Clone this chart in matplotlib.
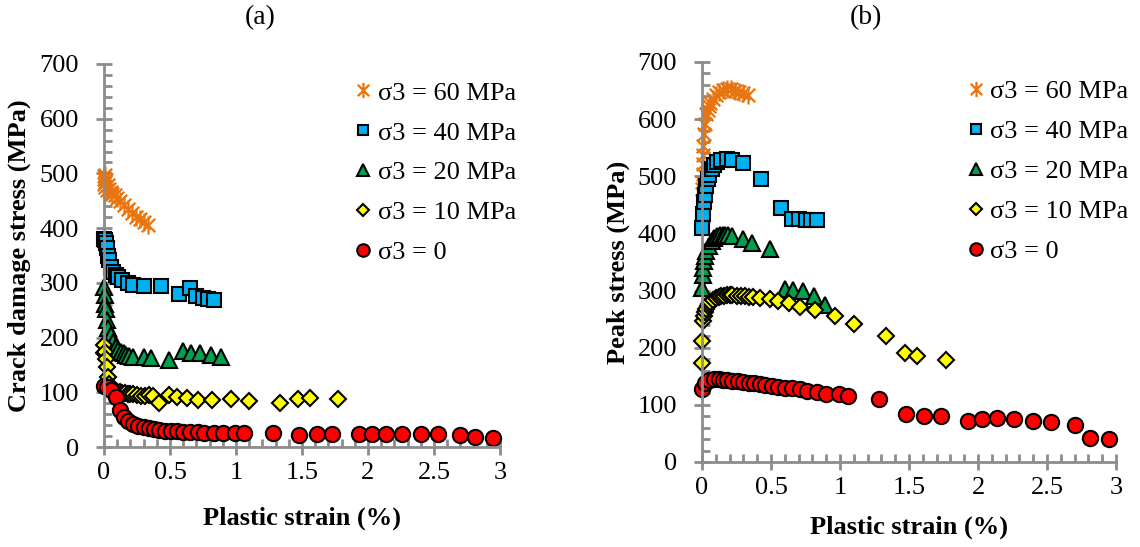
import matplotlib
matplotlib.use("Agg")
import matplotlib.pyplot as plt
from matplotlib.path import Path
from matplotlib.lines import Line2D
from matplotlib.ticker import MultipleLocator, FuncFormatter

plt.rcParams['font.family'] = ['Liberation Serif', 'DejaVu Serif']

# ---------------- data ----------------
labels = ["σ3 = 60 MPa", "σ3 = 40 MPa", "σ3 = 20 MPa", "σ3 = 10 MPa", "σ3 = 0"]

# plastic strain (%) per confining pressure
strain_60 = [0, 0.002, 0.004, 0.006, 0.008, 0.01, 0.015, 0.02, 0.03, 0.04, 0.05,
             0.06, 0.08, 0.10, 0.12, 0.15, 0.18, 0.21, 0.24, 0.27, 0.30, 0.33]
strain_40 = [0, 0.005, 0.015, 0.02, 0.03, 0.04, 0.05, 0.07, 0.09, 0.11, 0.14,
             0.18, 0.22, 0.30, 0.43, 0.57, 0.65, 0.70, 0.75, 0.79, 0.83]
strain_20 = [0, 0.005, 0.01, 0.015, 0.02, 0.03, 0.05, 0.07, 0.09, 0.11, 0.13,
             0.15, 0.17, 0.19, 0.22, 0.30, 0.36, 0.49, 0.60, 0.66, 0.73, 0.81, 0.89]
strain_10 = [0, 0.003, 0.01, 0.015, 0.02, 0.03, 0.04, 0.05, 0.06, 0.08, 0.10,
             0.12, 0.14, 0.16, 0.18, 0.20, 0.22, 0.25, 0.28, 0.31, 0.34, 0.37,
             0.42, 0.49, 0.55, 0.63, 0.71, 0.82, 0.96, 1.10, 1.33, 1.47, 1.56, 1.77]
strain_0 = [0, 0.02, 0.05, 0.09, 0.12, 0.15, 0.18, 0.22, 0.26, 0.30, 0.34, 0.38,
            0.42, 0.46, 0.51, 0.55, 0.60, 0.65, 0.71, 0.76, 0.83, 0.90, 0.99, 1.06,
            1.28, 1.48, 1.61, 1.73, 1.93, 2.03, 2.14, 2.26, 2.40, 2.53, 2.70, 2.81, 2.95]

# (a) crack damage stress (MPa)
cd_60 = [480, 495, 490, 498, 485, 475, 488, 470, 478, 472, 466,
         463, 460, 455, 449, 442, 435, 428, 421, 416, 411, 406]
cd_40 = [380, 378, 372, 363, 350, 341, 329, 320, 314, 310, 305,
         300, 297, 295, 294, 280, 290, 276, 273, 271, 268]
cd_20 = [292, 277, 262, 253, 232, 217, 204, 192, 183, 178, 174,
         171, 168, 166, 165, 164, 162, 159, 176, 172, 171, 168, 164]
cd_10 = [171, 186, 174, 160, 146, 128, 115, 108, 104, 102, 101,
         100, 99, 98, 97, 97, 96, 95, 94, 94, 95, 93,
         80, 95, 91, 89, 86, 86, 87, 84, 80, 87, 89, 87]
cd_0 = [111, 109, 104, 91, 68, 55, 48, 42, 38, 36, 34, 32,
        31, 30, 29, 28.5, 28, 27.5, 27, 26.5, 26, 26, 26, 25,
        26, 22, 23, 23, 24, 24, 24, 24, 24, 24, 22, 18, 16]

# (b) peak stress (MPa)
pk_60 = [477, 490, 504, 521, 538, 553, 574, 591, 609, 616, 623,
         629, 635, 643, 647, 651, 652, 652, 650, 648, 646, 643]
pk_40 = [410, 434, 455, 468, 483, 495, 503, 512, 519, 525, 528,
         530, 528, 524, 496, 445, 426, 425, 424, 424, 424]
pk_20 = [305, 328, 340, 351, 360, 369, 378, 386, 392, 395, 397,
         398, 398, 398, 395, 391, 384, 373, 303, 301, 299, 290, 274]
pk_10 = [173, 212, 246, 255, 262, 268, 273, 277, 280, 284, 287,
         289, 290, 291, 292, 292, 292, 291, 290, 290, 289, 289,
         287, 285, 282, 278, 272, 266, 255, 241, 221, 191, 185, 178]
pk_0 = [127, 138, 143, 145, 145, 144, 143, 142, 141, 140, 139, 138,
        136, 135, 133, 131, 130, 129, 127, 125, 122, 119, 119, 116,
        110, 84, 81, 81, 72, 75, 77, 75, 72, 70, 65, 42, 40]

# ---------------- styles ----------------
star = Path([(0, -1), (0, 1), (-0.75, -0.75), (0.75, 0.75), (-0.75, 0.75), (0.75, -0.75)],
            [Path.MOVETO, Path.LINETO, Path.MOVETO, Path.LINETO, Path.MOVETO, Path.LINETO])

styles = [
    dict(marker=star, ms=13, mfc='none', mec='#E8740F', mew=1.6),
    dict(marker='s', ms=9.5, mfc='#00B0F0', mec='black', mew=1.5),
    dict(marker='^', ms=11.5, mfc='#00A04E', mec='black', mew=1.5),
    dict(marker='D', ms=8, mfc='#FFFF00', mec='black', mew=1.5),
    dict(marker='o', ms=11, mfc='#FF0000', mec='black', mew=1.5),
]
legend_ms = [11, 7, 9, 6, 9]

strains = [strain_60, strain_40, strain_20, strain_10, strain_0]
crack = [cd_60, cd_40, cd_20, cd_10, cd_0]
peak = [pk_60, pk_40, pk_20, pk_10, pk_0]

AX_GRAY = '#8C8C8C'
FS = 19

fig = plt.figure(figsize=(11.4, 5.47), dpi=100)
ax_a = fig.add_axes([0.0912, 0.1828, 0.3474, 0.7002])
ax_b = fig.add_axes([0.6158, 0.1554, 0.3632, 0.7313])


def style_axes(ax):
    ax.set_xlim(0, 3)
    ax.set_ylim(0, 700)
    for s in ('top', 'right'):
        ax.spines[s].set_visible(False)
    for s in ('left', 'bottom'):
        ax.spines[s].set_color(AX_GRAY)
        ax.spines[s].set_linewidth(2)
    ax.xaxis.set_major_locator(MultipleLocator(0.5))
    ax.xaxis.set_minor_locator(MultipleLocator(0.1))
    ax.yaxis.set_major_locator(MultipleLocator(100))
    ax.yaxis.set_minor_locator(MultipleLocator(20))
    ax.xaxis.set_major_formatter(FuncFormatter(lambda v, p: f"{v:g}"))
    ax.tick_params(which='major', direction='inout', length=12, width=2,
                   color=AX_GRAY, labelsize=FS)
    ax.tick_params(axis='y', which='major', pad=12)
    ax.tick_params(axis='x', which='major', pad=5)
    ax.tick_params(which='minor', direction='in', length=6, width=2, color=AX_GRAY)


def draw(ax, ys, ylabel):
    for xs, yv, st in zip(strains, ys, styles):
        ax.plot(xs, yv, linestyle='none', clip_on=False, **st)
    style_axes(ax)
    ax.set_xlabel("Plastic strain (%)", fontsize=FS, fontweight='bold')
    ax.set_ylabel(ylabel, fontsize=FS, fontweight='bold')
    handles = [Line2D([], [], linestyle='none', **{**st, 'ms': m})
               for st, m in zip(styles, legend_ms)]
    ax.legend(handles, labels, loc='upper left', frameon=False, fontsize=FS,
              handlelength=0.6, handletextpad=0.25, labelspacing=0.62,
              borderaxespad=0, borderpad=0)


draw(ax_a, crack, "Crack damage stress (MPa)")
draw(ax_b, peak, "Peak stress (MPa)")

ax_a.get_legend().set_bbox_to_anchor((0.635, 0.955), transform=ax_a.transAxes)
ax_b.get_legend().set_bbox_to_anchor((0.642, 0.955), transform=ax_b.transAxes)

ax_a.xaxis.set_label_coords(0.5, -0.155)
ax_a.yaxis.set_label_coords(-0.185, 0.5)
ax_b.xaxis.set_label_coords(0.5, -0.135)
ax_b.yaxis.set_label_coords(-0.175, 0.5)

fig.text(0.228, 0.967, "(a)", ha='center', va='center', fontsize=20)
fig.text(0.760, 0.967, "(b)", ha='center', va='center', fontsize=20)

fig.savefig("out.png", dpi=100)
